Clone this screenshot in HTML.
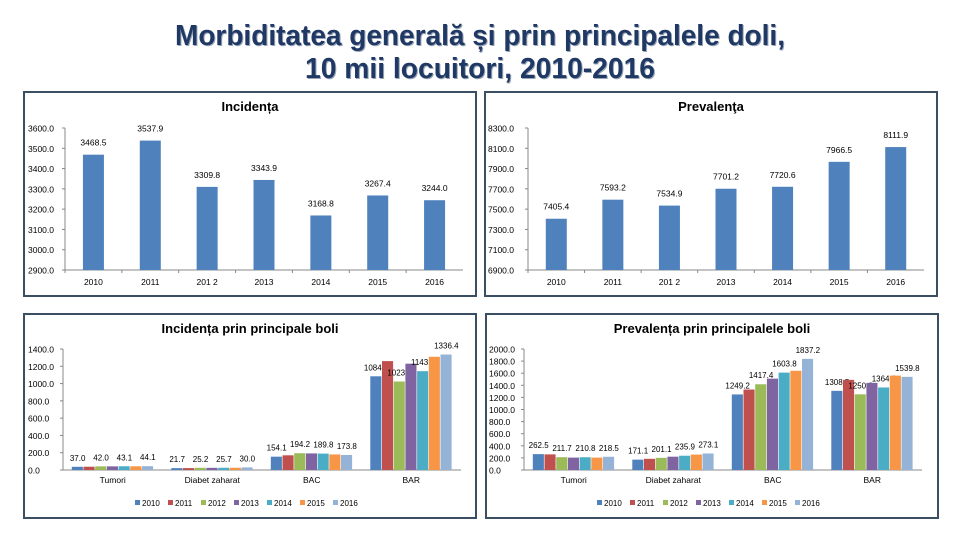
<!DOCTYPE html>
<html><head><meta charset="utf-8">
<style>
html,body{margin:0;padding:0;background:#fff;}
svg{display:block;font-family:"Liberation Sans",sans-serif;}
</style></head>
<body>
<svg id="root" width="960" height="540" viewBox="0 0 960 540">
  <g>
    <text x="481" y="46" text-anchor="middle" font-size="29" font-weight="bold" fill="#9aa6b8" textLength="610" lengthAdjust="spacingAndGlyphs">Morbiditatea generală și prin principalele doli,</text>
    <text x="480" y="45" text-anchor="middle" font-size="29" font-weight="bold" fill="#1f3864" textLength="610" lengthAdjust="spacingAndGlyphs">Morbiditatea generală și prin principalele doli,</text>
    <text x="481" y="79" text-anchor="middle" font-size="29" font-weight="bold" fill="#9aa6b8" textLength="350" lengthAdjust="spacingAndGlyphs">10 mii locuitori, 2010-2016</text>
    <text x="480" y="78" text-anchor="middle" font-size="29" font-weight="bold" fill="#1f3864" textLength="350" lengthAdjust="spacingAndGlyphs">10 mii locuitori, 2010-2016</text>
  </g>
</svg>
<script>
var NS = "http://www.w3.org/2000/svg";
var root = document.getElementById("root");

var years = ["2010","2011","2012","2013","2014","2015","2016"];
var yearLabels = ["2010","2011","201 2","2013","2014","2015","2016"];
var incidence = [3468.5,3537.9,3309.8,3343.9,3168.8,3267.4,3244.0];
var prevalence = [7405.4,7593.2,7534.9,7701.2,7720.6,7966.5,8111.9];
var incTicks = [2900,3000,3100,3200,3300,3400,3500,3600];
var prevTicks = [6900,7100,7300,7500,7700,7900,8100,8300];

var groups = ["Tumori","Diabet zaharat","BAC","BAR"];
var incTumori = [37.0,38.0,42.0,42.0,43.1,43.0,44.1];
var incDiabet = [21.7,22.0,25.2,25.0,25.7,26.0,30.0];
var incBAC = [154.1,170.0,194.2,192.0,189.8,180.0,173.8];
var incBAR = [1084.3,1260.0,1023.8,1230.0,1143.5,1310.0,1336.4];
var incTumoriLbl = ["37.0","","42.0","","43.1","","44.1"];
var incDiabetLbl = ["21.7","","25.2","","25.7","","30.0"];
var incBACLbl = ["154.1","","194.2","","189.8","","173.8"];
var incBARLbl = ["1084.3","","1023.8","","1143.5","","1336.4"];
var prevTumori = [262.5,258.0,211.7,205.0,210.8,205.0,218.5];
var prevDiabet = [171.1,185.0,201.1,220.0,235.9,255.0,273.1];
var prevBAC = [1249.2,1330.0,1417.4,1510.0,1610.0,1640.0,1837.2];
var prevBAR = [1308.5,1490.0,1250.8,1440.0,1364.3,1560.0,1539.8];
var prevTumoriLbl = ["262.5","","211.7","","210.8","","218.5"];
var prevDiabetLbl = ["171.1","","201.1","","235.9","","273.1"];
var prevBACLbl = ["1249.2","","1417.4","","1603.8","","1837.2"];
var prevBARLbl = ["1308.5","","1250.8","","1364.3","","1539.8"];
var incGroupTicks = [0,200,400,600,800,1000,1200,1400];
var prevGroupTicks = [0,200,400,600,800,1000,1200,1400,1600,1800,2000];

var colors = ["#4f81bd","#c0504d","#9bbb59","#8064a2","#4bacc6","#f79646","#95b3d7"];

function mk(tag, attrs, parent){
  var e = document.createElementNS(NS, tag);
  for (var k in attrs) e.setAttribute(k, attrs[k]);
  (parent||root).appendChild(e);
  return e;
}
function txt(parent, x, y, s, size, anchor, weight){
  var t = mk("text",{x:x,y:y,"font-size":size,"text-anchor":anchor||"middle","fill":"#000","font-weight":weight||"normal"},parent);
  t.textContent = s;
  return t;
}

function panel(name, bx, by, bw, bh, title){
  var g = mk("g",{});
  
  
  var r = mk("rect",{x:bx,y:by,width:bw,height:bh,fill:"#fff",stroke:"#3b4f63","stroke-width":2},g);
  
  
  var t = txt(g, bx+bw/2, by+19, title, 13, "middle", "bold");
  
  
  return g;
}

function yAxis(g, x0, x1, yTop, yBot, ticks, labX){
  var lo = ticks[0], hi = ticks[ticks.length-1];
  function sy(v){ return yBot - (v-lo)/(hi-lo)*(yBot-yTop); }
  var ax = mk("line",{x1:x0,y1:yTop,x2:x0,y2:yBot,stroke:"#888","stroke-width":1},g);
  
  
  var bx = mk("line",{x1:x0,y1:yBot,x2:x1,y2:yBot,stroke:"#888","stroke-width":1},g);
  
  
  ticks.forEach(function(v){
    var y = sy(v);
    mk("line",{x1:x0-3,y1:y,x2:x0,y2:y,stroke:"#888"},g);
    var l = txt(g, labX, y+3.5, v.toFixed(1), 8.5, "start");
    
    
  });
  return sy;
}

function simpleChart(name, bx, by, title, x0, x1, yTop, yBot, ticks, vals, labX){
  var g = panel(name, bx, by, 452, 204, title);
  var sy = yAxis(g, x0, x1, yTop, yBot, ticks, labX);
  var n = vals.length, step = (x1-x0)/n;
  for (var i=0;i<n;i++){
    var cx = x0 + step*(i+0.5), y = sy(vals[i]);
    var b = mk("rect",{x:cx-10.5,y:y,width:21,height:yBot-y,fill:"#4f81bd"},g);
    
    
    var v = txt(g, cx, y-9, vals[i].toFixed(1), 8.5);
    
    
    var xl = txt(g, cx, yBot+15, yearLabels[i], 8.5);
    
    
    mk("line",{x1:x0+step*i,y1:yBot,x2:x0+step*i,y2:yBot+3,stroke:"#888"},g);
  }
}

function groupChart(name, bx, by, title, x0, x1, yTop, yBot, ticks, series, labels, labX){
  var g = panel(name, bx, by, 452, 204, title);
  var sy = yAxis(g, x0, x1, yTop, yBot, ticks, labX);
  var gs = (x1-x0)/groups.length, bw = 11.7;
  groups.forEach(function(gn, gi){
    var c = x0 + gs*(gi+0.5);
    var vals = series[gi], lbls = labels[gi];
    for (var i=0;i<vals.length;i++){
      var x = c - bw*3.5 + bw*i, y = sy(vals[i]);
      var b = mk("rect",{x:x,y:y,width:bw-0.6,height:yBot-y,fill:colors[i]},g);
      
      
      if (lbls[i]){
        var t = txt(g, x+bw/2, y-6, lbls[i], 8);
        
        
      }
    }
    var gl = txt(g, c, yBot+13, gn, 8.5);
    
    
  });
  var lx = bx + 111;
  years.forEach(function(yr, i){
    var e = mk("g",{},g);
    
    
    mk("rect",{x:lx+i*33,y:by+186,width:5,height:5,fill:colors[i]},e);
    txt(e, lx+i*33+7, by+192, yr, 8, "start");
  });
}

simpleChart("incidence-chart", 24, 92, "Incidența", 65, 463, 128, 270, incTicks, incidence, 28);
simpleChart("prevalence-chart", 485, 92, "Prevalenţa", 528, 924, 128, 270, prevTicks, prevalence, 488);
groupChart("incidence-by-disease-chart", 24, 314, "Incidența prin principale boli", 63, 461, 349, 470, incGroupTicks,
  [incTumori, incDiabet, incBAC, incBAR], [incTumoriLbl, incDiabetLbl, incBACLbl, incBARLbl], 28);
groupChart("prevalence-by-disease-chart", 486, 314, "Prevalența prin principalele boli", 524, 922, 349, 470, prevGroupTicks,
  [prevTumori, prevDiabet, prevBAC, prevBAR], [prevTumoriLbl, prevDiabetLbl, prevBACLbl, prevBARLbl], 489);
</script>
</body></html>
